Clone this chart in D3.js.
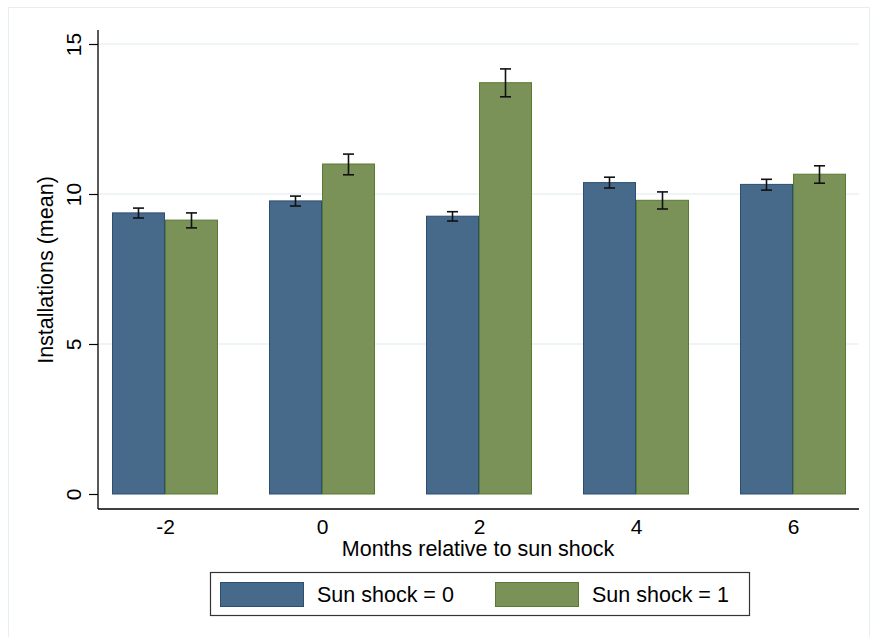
<!DOCTYPE html>
<html>
<head>
<meta charset="utf-8">
<script src="https://cdn.jsdelivr.net/npm/d3@7/dist/d3.min.js"></script>
<style>
  html, body { margin: 0; padding: 0; background: #fff; }
  svg { display: block; font-family: "Liberation Sans", Arial, Helvetica, sans-serif; }
</style>
</head>
<body>
<svg id="chart" width="870" height="637"></svg>
<script>
// Months relative to the sun shock
const months = ["-2", "0", "2", "4", "6"];
const seriesNames = ["Sun shock = 0", "Sun shock = 1"];
// Mean installations
const meanShock0 = [9.37, 9.77, 9.26, 10.38, 10.32];
const meanShock1 = [9.13, 11.00, 13.71, 9.79, 10.66];
// 95% confidence interval bounds
const lowShock0 = [9.20, 9.60, 9.10, 10.20, 10.13];
const highShock0 = [9.53, 9.93, 9.41, 10.56, 10.49];
const lowShock1 = [8.87, 10.64, 13.24, 9.50, 10.36];
const highShock1 = [9.37, 11.33, 14.17, 10.07, 10.94];
const yTicks = [0, 5, 10, 15];

const fills = ["#47698a", "#7a9157"];
const strokes = ["#2b4f74", "#5a7a32"];

const svg = d3.select("#chart");
const W = 870, H = 637;

// outer graph region frame
svg.append("rect")
  .attr("x", 8.5).attr("y", 7.5)
  .attr("width", W - 9).attr("height", H - 7)
  .attr("fill", "#fff").attr("stroke", "#e6eff1").attr("stroke-width", 1);

const plot = { left: 98, right: 859, top: 30, bottom: 509 };

const y = d3.scaleLinear().domain([0, 15]).range([494, 44]);

// group centres and the two bars within each group
const groupScale = d3.scalePoint().domain(months).range([165, 793]);
const inner = d3.scaleBand().domain([0, 1]).range([-53, 53]).padding(0);

// gridlines
svg.append("g").selectAll("line").data(yTicks.filter(d => d > 0)).join("line")
  .attr("x1", plot.left).attr("x2", plot.right)
  .attr("y1", d => y(d)).attr("y2", d => y(d))
  .attr("stroke", "#eaf2f3").attr("stroke-width", 1.5);

// bars
const rows = months.map((m, i) => [
  { m, s: 0, v: meanShock0[i], lo: lowShock0[i], hi: highShock0[i] },
  { m, s: 1, v: meanShock1[i], lo: lowShock1[i], hi: highShock1[i] }
]).flat();

svg.append("g").selectAll("rect").data(rows).join("rect")
  .attr("x", d => groupScale(d.m) + inner(d.s) + 0.5)
  .attr("width", inner.bandwidth() - 1)
  .attr("y", d => y(d.v))
  .attr("height", d => y(0) - y(d.v))
  .attr("fill", d => fills[d.s])
  .attr("stroke", d => strokes[d.s])
  .attr("stroke-width", 1);

// confidence-interval caps
const eb = svg.append("g").attr("stroke", "#111").attr("stroke-width", 1.6).attr("fill", "none");
rows.forEach(d => {
  const cx = groupScale(d.m) + inner(d.s) + inner.bandwidth() / 2;
  eb.append("line").attr("x1", cx).attr("x2", cx).attr("y1", y(d.hi)).attr("y2", y(d.lo));
  eb.append("line").attr("x1", cx - 5.5).attr("x2", cx + 5.5).attr("y1", y(d.hi)).attr("y2", y(d.hi));
  eb.append("line").attr("x1", cx - 5.5).attr("x2", cx + 5.5).attr("y1", y(d.lo)).attr("y2", y(d.lo));
});

// y axis
const yAxis = d3.axisLeft(y).tickValues(yTicks).tickSize(9).tickPadding(6);
const gy = svg.append("g").attr("transform", `translate(${plot.left},0)`).call(yAxis);
gy.select(".domain").attr("d", `M0,${plot.top}V${plot.bottom}`).attr("stroke", "#000").attr("stroke-width", 1.3);
gy.selectAll(".tick line").attr("stroke", "#000").attr("stroke-width", 1.2);
gy.selectAll(".tick text")
  .attr("font-size", 21).attr("fill", "#000")
  .attr("text-anchor", "middle").attr("dy", null)
  .attr("transform", "translate(-25,0) rotate(-90)")
  .attr("x", 0).attr("y", 0)
  .attr("dominant-baseline", "central");

// x axis (category labels, no tick marks)
const xAxis = d3.axisBottom(groupScale).tickSize(0).tickPadding(10);
const gx = svg.append("g").attr("transform", `translate(0,${plot.bottom})`).call(xAxis);
gx.select(".domain").attr("d", `M${plot.left},0H${plot.right}`).attr("stroke", "#000").attr("stroke-width", 1.3);
gx.selectAll(".tick text").attr("font-size", 21).attr("fill", "#000");

// axis titles
svg.append("text")
  .attr("x", 478).attr("y", 556)
  .attr("text-anchor", "middle").attr("font-size", 21.5)
  .text("Months relative to sun shock");

svg.append("text")
  .attr("transform", "translate(53,270) rotate(-90)")
  .attr("text-anchor", "middle").attr("font-size", 21.5)
  .text("Installations (mean)");

// legend
const lg = svg.append("g");
lg.append("rect").attr("x", 210.5).attr("y", 572.5).attr("width", 539).attr("height", 43)
  .attr("fill", "#fff").attr("stroke", "#333").attr("stroke-width", 1.2);
const legendX = [220, 495];
seriesNames.forEach((name, i) => {
  lg.append("rect").attr("x", legendX[i] + 0.5).attr("y", 582.5).attr("width", 83).attr("height", 24)
    .attr("fill", fills[i]).attr("stroke", strokes[i]).attr("stroke-width", 1);
  lg.append("text").attr("x", legendX[i] + 97).attr("y", 602)
    .attr("font-size", 21.5).text(name);
});
</script>
</body>
</html>
